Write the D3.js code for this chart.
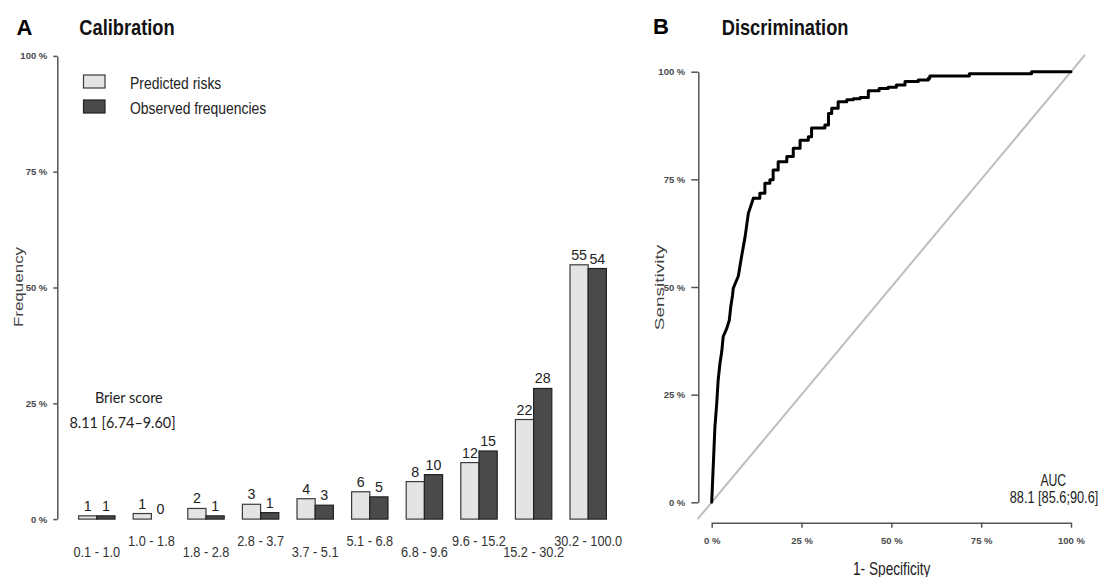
<!DOCTYPE html>
<html>
<head>
<meta charset="utf-8">
<script src="https://cdn.jsdelivr.net/npm/d3@7"></script>
<style>
  html, body { margin: 0; padding: 0; background: #fff; }
  svg { display: block; }
  text { font-family: "Liberation Sans", Arial, sans-serif; }
</style>
</head>
<body>
<svg id="chart" width="1099" height="577"></svg>
<script>
// ---------- data ----------
const categories = ["0.1 - 1.0", "1.0 - 1.8", "1.8 - 2.8", "2.8 - 3.7", "3.7 - 5.1",
                    "5.1 - 6.8", "6.8 - 9.6", "9.6 - 15.2", "15.2 - 30.2", "30.2 - 100.0"];
const predicted = [0.7, 1.2, 2.3, 3.2, 4.4, 5.9, 8.1, 12.2, 21.5, 54.9];
const observed  = [0.7, 0.0, 0.7, 1.4, 3.0, 4.8, 9.6, 14.7, 28.2, 54.1];
const seriesNames = ["Predicted risks", "Observed frequencies"];
const yTicks = [0, 25, 50, 75, 100];

// ROC curve (1 - specificity, sensitivity)
const rocFpr = [0, 0.005, 0.009, 0.014, 0.018, 0.023, 0.028, 0.032, 0.042, 0.049, 0.053, 0.058, 0.060,
                0.074, 0.083, 0.093, 0.102, 0.116, 0.134, 0.148, 0.162, 0.171, 0.185, 0.209, 0.227,
                0.246, 0.269, 0.278, 0.315, 0.325, 0.334, 0.352, 0.376, 0.394, 0.413, 0.436, 0.466,
                0.491, 0.514, 0.538, 0.575, 0.603, 0.607, 0.717, 0.890, 1.000];
const rocTpr = [0, 0.098, 0.176, 0.230, 0.284, 0.323, 0.350, 0.385, 0.404, 0.423, 0.454, 0.481, 0.497,
                0.525, 0.570, 0.617, 0.671, 0.706, 0.718, 0.741, 0.749, 0.772, 0.791, 0.803, 0.822,
                0.841, 0.849, 0.869, 0.876, 0.903, 0.915, 0.930, 0.935, 0.937, 0.940, 0.956, 0.961,
                0.964, 0.969, 0.977, 0.981, 0.985, 0.990, 0.995, 1.000, 1.000];
const rocTicks = [0, 0.25, 0.5, 0.75, 1];

// ---------- helpers ----------
const svg = d3.select("#chart");

function txt(parent, x, y, s, o = {}) {
  const g = parent.append("g")
    .attr("transform", `translate(${x},${y})` + (o.rot ? ` scale(${o.sx || 1},1) rotate(${o.rot})` : ` scale(${o.sx || 1},1)`));
  const t = g.append("text")
    .attr("x", 0).attr("y", 0)
    .attr("text-anchor", o.anchor || "start")
    .style("font-size", (o.size || 14) + "px")
    .style("font-weight", o.weight || "normal")
    .style("fill", o.fill || "#222")
    .text(s);
  if (o.font) t.style("font-family", o.font);
  if (o.dy) t.attr("dy", o.dy);
  return t;
}

function styleAxis(g) {
  g.select(".domain").attr("stroke", "#555").attr("stroke-width", 1.5);
  g.selectAll(".tick line").attr("stroke", "#555").attr("stroke-width", 1.5);
  g.selectAll(".tick text")
    .style("font-size", "9.5px")
    .style("font-weight", "bold")
    .style("font-family", "'Liberation Sans', Arial, sans-serif")
    .style("fill", "#4a4a4a");
}

// ---------- Panel A: Calibration ----------
const yA = d3.scaleLinear().domain([0, 100]).range([519.1, 55.9]);
const x0 = d3.scaleBand().domain(categories).range([78.6, 606.4]).paddingInner(1 / 3).paddingOuter(0);
const x1 = d3.scaleBand().domain(seriesNames).range([0, x0.bandwidth()]);
const fills = d3.scaleOrdinal().domain(seriesNames).range(["#e4e4e4", "#4a4a4a"]);
const strokes = d3.scaleOrdinal().domain(seriesNames).range(["#3a3a3a", "#222"]);

const gA = svg.append("g");
gA.append("g")
  .attr("transform", "translate(57.3,0)")
  .call(d3.axisLeft(yA).tickValues(yTicks).tickFormat(d => d + " %").tickSize(4).tickSizeOuter(0).tickPadding(6))
  .call(styleAxis);

const rows = categories.map((c, i) => ({ cat: c, vals: [
  { s: seriesNames[0], v: predicted[i] },
  { s: seriesNames[1], v: observed[i] }
]}));

const grp = gA.selectAll(".grp").data(rows).enter().append("g")
  .attr("transform", d => `translate(${x0(d.cat)},0)`);
grp.selectAll("rect").data(d => d.vals).enter().append("rect")
  .attr("x", d => x1(d.s))
  .attr("width", x1.bandwidth())
  .attr("y", d => yA(d.v))
  .attr("height", d => yA(0) - yA(d.v))
  .attr("fill", d => fills(d.s))
  .attr("stroke", d => strokes(d.s))
  .attr("stroke-width", 1.2);

rows.forEach(r => {
  r.vals.forEach(d => {
    txt(gA, x0(r.cat) + x1(d.s) + x1.bandwidth() / 2, yA(d.v) - 5, String(Math.round(d.v)),
        { anchor: "middle", size: 15.5, sx: 0.92, fill: "#222" });
  });
});

categories.forEach((c, i) => {
  txt(gA, x0(c) + x0.bandwidth() / 2, i % 2 === 0 ? 557 : 545.5, c,
      { anchor: "middle", size: 14.5, sx: 0.88, fill: "#333" });
});

// legend
seriesNames.forEach((s, i) => {
  gA.append("rect")
    .attr("x", 83.5).attr("y", 75 + i * 25)
    .attr("width", 21.5).attr("height", 13)
    .attr("fill", fills(s)).attr("stroke", strokes(s)).attr("stroke-width", 1.2);
  txt(gA, 130, 88.5 + i * 25, s, { size: 17, sx: 0.82, fill: "#222" });
});

// titles
txt(svg, 16.5, 34.5, "A", { size: 22, weight: "bold", fill: "#000" });
txt(svg, 79.3, 34.5, "Calibration", { size: 22, weight: "bold", sx: 0.83, fill: "#111" });
txt(svg, 18.5, 287, "Frequency", { size: 17, sx: 0.7, rot: -90, anchor: "middle", dy: "0.35em", fill: "#444" });

// brier score
txt(gA, 128.8, 403.3, "Brier score", { anchor: "middle", size: 16, sx: 0.9, font: "Lato, 'Open Sans', sans-serif", fill: "#222" });
txt(gA, 122.5, 428, "8.11 [6.74–9.60]", { anchor: "middle", size: 16, sx: 0.9, font: "Lato, 'Open Sans', sans-serif", fill: "#222" });

// ---------- Panel B: Discrimination ----------
const xB = d3.scaleLinear().domain([0, 1]).range([711.7, 1071]);
const yB = d3.scaleLinear().domain([0, 1]).range([502.3, 71.7]);
const gB = svg.append("g");

gB.append("g")
  .attr("transform", "translate(698.3,0)")
  .call(d3.axisLeft(yB).tickValues(rocTicks).tickFormat(d => Math.round(d * 100) + " %").tickSize(7).tickSizeOuter(0).tickPadding(6))
  .call(styleAxis);
gB.append("g")
  .attr("transform", "translate(0,522.7)")
  .call(d3.axisBottom(xB).tickValues(rocTicks).tickFormat(d => Math.round(d * 100) + " %").tickSize(5).tickSizeOuter(0).tickPadding(10))
  .call(styleAxis);

// diagonal reference line clipped to plot region (4% extension)
const ext = 0.04;
svg.append("clipPath").attr("id", "clipB").append("rect")
  .attr("x", xB(-ext)).attr("y", yB(1 + ext))
  .attr("width", xB(1 + ext) - xB(-ext)).attr("height", yB(-ext) - yB(1 + ext));
const diag = [-ext, 1 + ext];
gB.append("line")
  .attr("clip-path", "url(#clipB)")
  .attr("x1", xB(diag[0])).attr("y1", yB(diag[0]))
  .attr("x2", xB(diag[1])).attr("y2", yB(diag[1]))
  .attr("stroke", "#bdbdbd").attr("stroke-width", 2);

// ROC: steep lower section drawn straight, upper section as steps
const roc = rocFpr.map((f, i) => [f, rocTpr[i]]);
const splitAt = rocFpr.findIndex(f => f >= 0.116);
const lineLin = d3.line().x(d => xB(d[0])).y(d => yB(d[1]));
const lineStep = d3.line().x(d => xB(d[0])).y(d => yB(d[1])).curve(d3.curveStepAfter);
gB.append("path")
  .datum(roc.slice(0, splitAt + 1))
  .attr("fill", "none").attr("stroke", "#000").attr("stroke-width", 3)
  .attr("stroke-linejoin", "round").attr("stroke-linecap", "round")
  .attr("d", lineLin);
gB.append("path")
  .datum(roc.slice(splitAt))
  .attr("fill", "none").attr("stroke", "#000").attr("stroke-width", 3)
  .attr("stroke-linejoin", "round").attr("stroke-linecap", "round")
  .attr("d", lineStep);

txt(svg, 653, 34, "B", { size: 22, weight: "bold", fill: "#000" });
txt(svg, 721.7, 35, "Discrimination", { size: 22, weight: "bold", sx: 0.83, fill: "#111" });
txt(svg, 659, 287.5, "Sensitivity", { size: 19, sx: 0.7, rot: -90, anchor: "middle", dy: "0.35em", fill: "#444" });
txt(svg, 891.7, 575, "1- Specificity", { size: 18, sx: 0.76, anchor: "middle", fill: "#222" });
txt(svg, 1053.3, 486, "AUC", { size: 17, sx: 0.72, anchor: "middle", fill: "#222" });
txt(svg, 1054, 503.3, "88.1 [85.6;90.6]", { size: 17, sx: 0.75, anchor: "middle", fill: "#222" });
</script>
</body>
</html>
